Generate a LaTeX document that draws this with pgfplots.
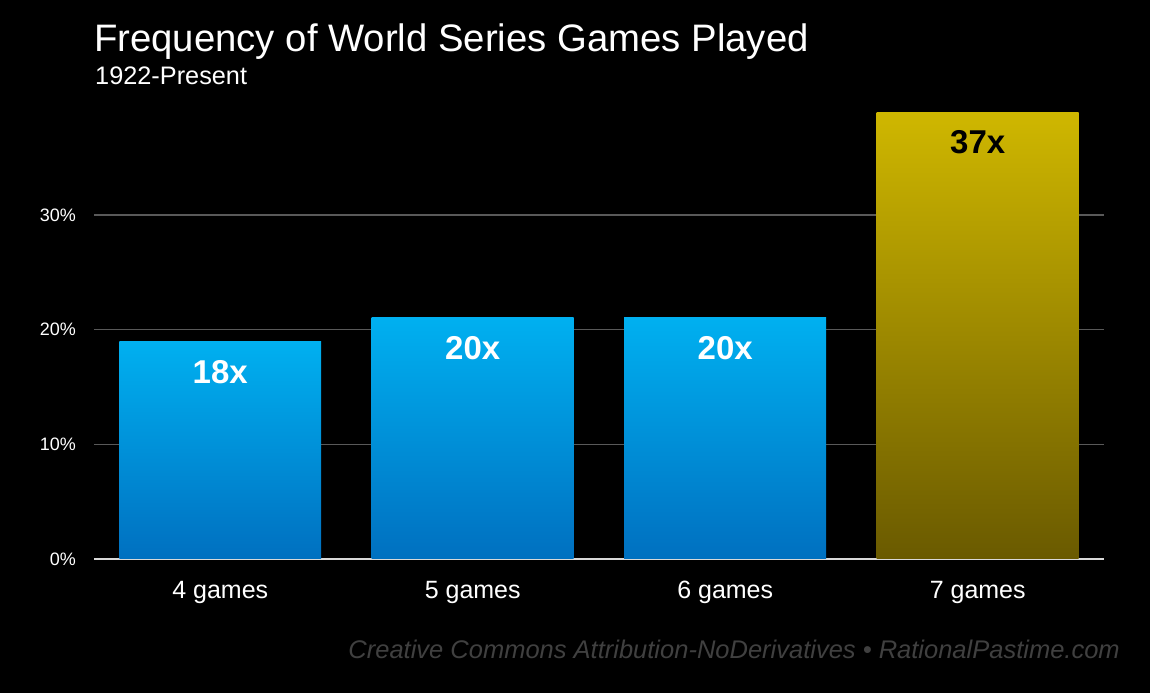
\documentclass[border=0pt]{standalone}
\usepackage{fontspec}
\setmainfont{Liberation Sans}
\usepackage{pgfplots}
\pgfplotsset{compat=1.18}
\definecolor{bluetop}{RGB}{0,176,240}
\definecolor{bluebot}{RGB}{0,112,192}
\definecolor{goldtop}{RGB}{207,183,0}
\definecolor{goldbot}{RGB}{106,90,0}
\definecolor{gridc}{RGB}{89,89,89}
\definecolor{axisc}{RGB}{217,217,217}
\definecolor{footc}{RGB}{64,64,64}
\pgfplotsset{
  wsbar/.style={ybar, bar width=0.8, bar shift=0pt, draw=none,
    point meta=explicit symbolic, nodes near coords,
    every node near coord/.append style={anchor=base, yshift=-41.5pt, inner sep=0pt,
      font=\bfseries\fontsize{33}{36}\selectfont}},
}
\begin{document}
\begin{tikzpicture}[x=1pt,y=1pt]
\fill[black] (0,0) rectangle (1150,693);
\begin{axis}[
  at={(94pt,134pt)}, anchor=south west,
  scale only axis, width=1010pt, height=447.2pt,
  xmin=-0.5, xmax=3.5, ymin=0, ymax=39,
  axis lines=left,
  y axis line style={draw=none},
  x axis line style={-, draw=axisc, line width=2pt},
  ymajorgrids, grid style={draw=gridc, line width=1.6pt},
  ytick={0,10,20,30}, yticklabels={0\%,10\%,20\%,30\%},
  xtick={0,1,2,3}, xticklabels={4 games,5 games,6 games,7 games},
  major tick length=0pt,
  tick style={draw=none},
  yticklabel style={anchor=east, inner sep=0pt, xshift=-18pt, font=\fontsize{18}{20}\selectfont, text=white},
  xticklabel style={anchor=base, inner sep=0pt, yshift=-39pt, font=\fontsize{25}{28}\selectfont, text=white},
  /pgf/number format/assume math mode=true,
  clip=false,
]
\addplot[wsbar, top color=bluetop, bottom color=bluebot, every node near coord/.append style={text=white}]
  coordinates {(0,18.947)[18x]};
\addplot[wsbar, top color=bluetop, bottom color=bluebot, every node near coord/.append style={text=white}]
  coordinates {(1,21.053)[20x]};
\addplot[wsbar, top color=bluetop, bottom color=bluebot, every node near coord/.append style={text=white}]
  coordinates {(2,21.053)[20x]};
\addplot[wsbar, top color=goldtop, bottom color=goldbot, every node near coord/.append style={text=black}]
  coordinates {(3,38.947)[37x]};
\end{axis}
\node[anchor=base west, inner sep=0pt, text=white, font=\fontsize{38.3}{44}\selectfont] at (94,641) {Frequency of World Series Games Played};
\node[anchor=base west, inner sep=0pt, text=white, font=\fontsize{25.3}{30}\selectfont] at (95,608) {1922-Present};
\node[anchor=base east, inner sep=0pt, text=footc, font=\itshape\fontsize{25.5}{30}\selectfont] at (1120,35) {Creative Commons Attribution-NoDerivatives • RationalPastime.com};
\pgfresetboundingbox
\useasboundingbox (0,0) rectangle (1150,693);
\end{tikzpicture}
\end{document}
